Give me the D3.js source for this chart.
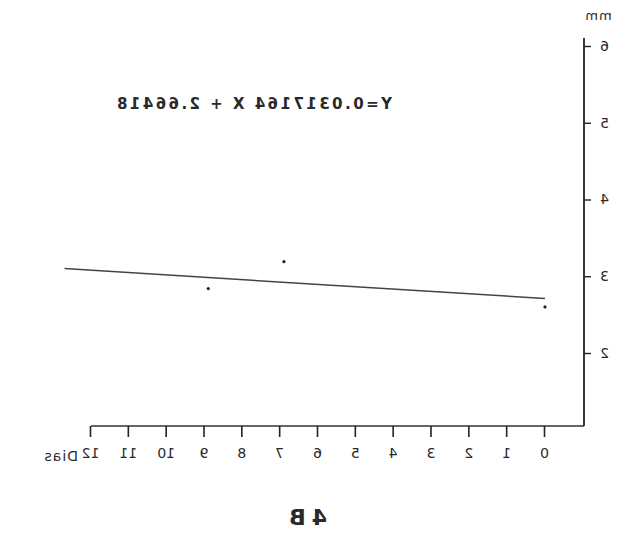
<!DOCTYPE html>
<html><head><meta charset="utf-8">
<script src="https://cdn.jsdelivr.net/npm/d3@7"></script>
<style>
html,body{margin:0;padding:0;background:#fff;}
svg{display:block;}
text{font-family:"DejaVu Sans",sans-serif;fill:#2a2a2a;}
</style></head>
<body>
<script>
// Data (the reference image is a horizontal mirror of the original figure)
const xTicks = [0,1,2,3,4,5,6,7,8,9,10,11,12];
const yTicks = [2,3,4,5,6];
const points = [
  {x: 0.0, y: 2.60},
  {x: 6.9, y: 3.19},
  {x: 8.9, y: 2.84}
];
const fitLine = [
  {x: 0.0, y: 2.71},
  {x: 12.7, y: 3.10}
];
const equation = "Y=0.0317164 X + 2.66418";
const xUnit = "Dias";
const yUnit = "mm";
const panel = "4B";

const W = 630, H = 540;
const svg = d3.select("body").append("svg").attr("width", W).attr("height", H);
svg.append("rect").attr("width", W).attr("height", H).attr("fill", "#fff");

// everything drawn in the original orientation, then mirrored
const g = svg.append("g").attr("transform", `translate(${W},0) scale(-1,1)`);

const x = d3.scaleLinear().domain([0, 12]).range([85, 539]);
const y = d3.scaleLinear().domain([2, 6]).range([353, 46]);
const axisY0 = 426, axisX0 = 46;

// axes lines
g.append("line").attr("x1", axisX0).attr("x2", axisX0).attr("y1", 38).attr("y2", axisY0)
  .attr("stroke", "#222").attr("stroke-width", 1.8);
g.append("line").attr("x1", axisX0).attr("x2", x(12)).attr("y1", axisY0).attr("y2", axisY0)
  .attr("stroke", "#333").attr("stroke-width", 1.5);

// x axis
const xAx = g.append("g").attr("transform", `translate(0,${axisY0})`)
  .call(d3.axisBottom(x).tickValues(xTicks).tickFormat(d3.format("d"))
    .tickSize(11).tickPadding(11).tickSizeOuter(0));
xAx.select(".domain").remove();
xAx.selectAll(".tick line").attr("stroke", "#222").attr("stroke-width", 1.6);
xAx.selectAll(".tick text").attr("font-size", 14).style("fill", "#2a2a2a");

g.append("text").attr("x", 552).attr("y", axisY0 + 35).attr("font-size", 14)
  .attr("letter-spacing", 1).text(xUnit);

// y axis
const yAx = g.append("g").attr("transform", `translate(${axisX0},0)`)
  .call(d3.axisLeft(y).tickValues(yTicks).tickFormat(d3.format("d"))
    .tickSize(7).tickPadding(9).tickSizeOuter(0));
yAx.select(".domain").remove();
yAx.selectAll(".tick line").attr("stroke", "#222").attr("stroke-width", 1.4);
yAx.selectAll(".tick text").attr("font-size", 14).style("fill", "#2a2a2a");

g.append("text").attr("x", 32).attr("y", 20).attr("text-anchor", "middle")
  .attr("font-size", 13).attr("letter-spacing", 1).text(yUnit);

// regression line
g.append("line")
  .attr("x1", x(fitLine[0].x)).attr("y1", y(fitLine[0].y))
  .attr("x2", x(fitLine[1].x)).attr("y2", y(fitLine[1].y))
  .attr("stroke", "#444").attr("stroke-width", 1.5);

// points
g.selectAll("circle.pt").data(points).join("circle").attr("class", "pt")
  .attr("cx", d => x(d.x)).attr("cy", d => y(d.y)).attr("r", 1.6).attr("fill", "#222");

// equation
g.append("text").attr("x", 238).attr("y", 109).attr("font-size", 15).attr("font-weight", 600)
  .attr("textLength", 275).attr("lengthAdjust", "spacing").text(equation);

// panel label
g.append("text").attr("x", 325).attr("y", 525).attr("text-anchor", "middle")
  .attr("font-size", 22).attr("font-weight", 600).attr("letter-spacing", 6).text(panel);
</script>
</body></html>
